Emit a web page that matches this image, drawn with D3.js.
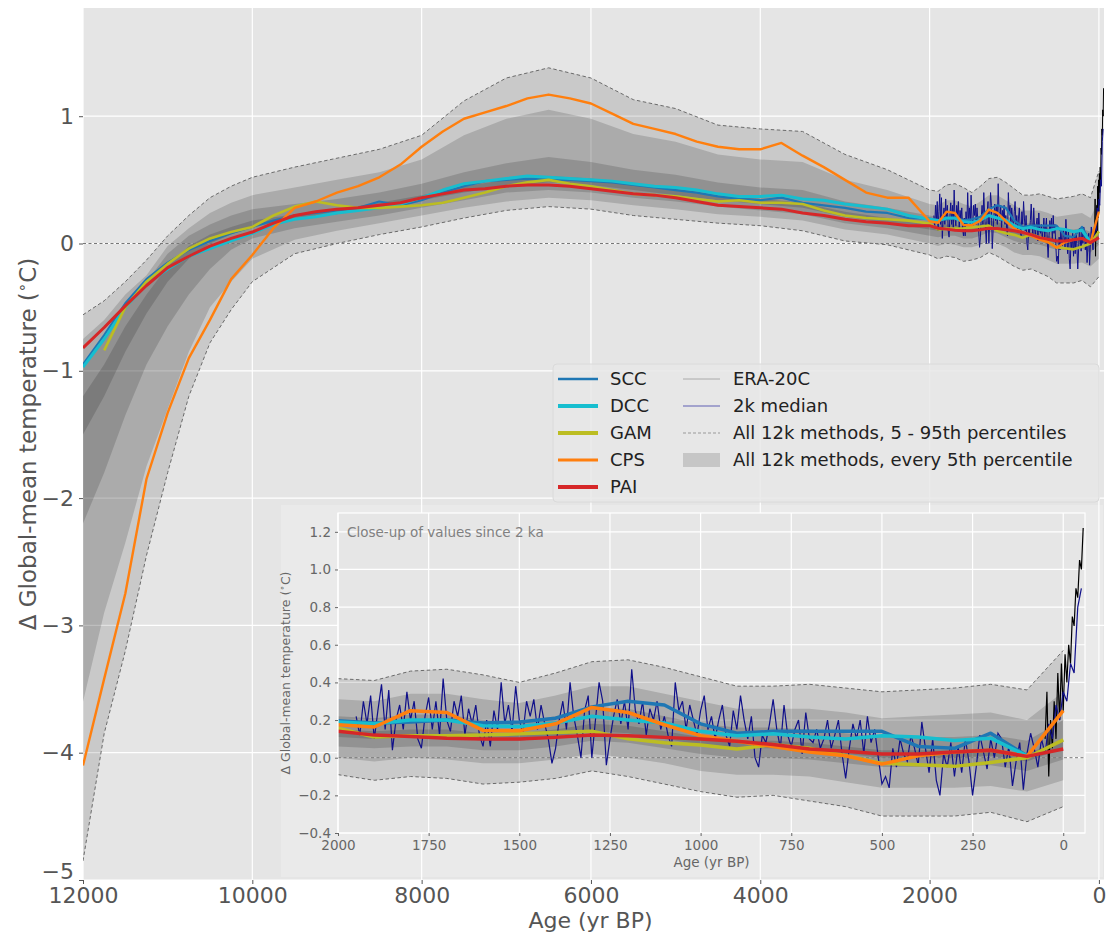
<!DOCTYPE html>
<html><head><meta charset="utf-8">
<script src="https://cdn.jsdelivr.net/npm/d3@7"></script>
<style>
body{margin:0;background:#fff;}
svg{display:block;font-family:"DejaVu Sans",sans-serif;}
</style>
</head><body>
<svg id="c" width="1106" height="936"></svg>
<script>
// ---------------- DATA ----------------
const lineAges = [12000,11750,11500,11250,11000,10750,10500,10250,10000,9750,9500,9250,9000,8750,8500,8250,8000,7750,7500,7250,7000,6750,6500,6250,6000,5750,5500,5250,5000,4750,4500,4250,4000,3750,3500,3250,3000,2750,2500,2250,
  2000,1900,1800,1700,1600,1500,1400,1300,1200,1100,1000,900,800,700,600,500,400,300,200,100,0];

const seriesNames = ["SCC","DCC","GAM","CPS","PAI"];
const seriesColors = ["#1f77b4","#17becf","#bcbd22","#ff7f0e","#d62728"];

const scc = [-0.95,-0.72,-0.47,-0.28,-0.15,-0.05,0.02,0.08,0.13,0.18,0.22,0.24,0.26,0.28,0.33,0.30,0.34,0.40,0.45,0.49,0.50,0.51,0.50,0.50,0.49,0.48,0.46,0.44,0.42,0.40,0.37,0.35,0.34,0.36,0.32,0.30,0.28,0.25,0.24,0.20,
  0.196,0.184,0.19,0.20,0.184,0.19,0.21,0.27,0.30,0.28,0.18,0.13,0.14,0.14,0.14,0.14,0.06,0.05,0.13,0.01,null];
const dcc = [-0.97,-0.75,-0.50,-0.32,-0.20,-0.10,-0.04,0.02,0.08,0.15,0.19,0.21,0.24,0.26,0.28,0.31,0.36,0.42,0.47,0.49,0.51,0.53,0.52,0.51,0.50,0.49,0.47,0.45,0.44,0.42,0.39,0.37,0.37,0.38,0.35,0.34,0.31,0.29,0.27,0.22,
  0.19,0.18,0.20,0.20,0.17,0.166,0.184,0.22,0.20,0.184,0.14,0.117,0.127,0.11,0.10,0.117,0.11,0.092,0.104,0.01,null];
const gam = [null,-0.84,-0.50,-0.30,-0.16,-0.04,0.04,0.09,0.13,0.22,0.29,0.33,0.30,0.28,0.28,0.29,0.30,0.32,0.36,0.40,0.45,0.48,0.50,0.47,0.45,0.42,0.39,0.38,0.37,0.35,0.33,0.34,0.32,0.32,0.31,0.26,0.22,0.20,0.19,0.18,
  0.157,0.11,0.117,0.117,0.12,0.127,0.134,0.141,0.10,0.08,0.068,0.046,0.07,0.05,0.01,-0.03,-0.037,-0.046,-0.025,0.0,0.095];
const cps = [-4.10,-3.42,-2.75,-1.85,-1.33,-0.90,-0.60,-0.28,-0.09,0.12,0.28,0.33,0.40,0.45,0.52,0.62,0.76,0.88,0.98,1.03,1.08,1.14,1.17,1.14,1.10,1.02,0.94,0.90,0.86,0.80,0.76,0.74,0.74,0.79,0.69,0.60,0.50,0.40,0.36,0.36,
  0.175,0.163,0.25,0.24,0.145,0.143,0.18,0.267,0.24,0.175,0.117,0.087,0.06,0.03,0.01,-0.034,0.01,0.03,0.04,0.007,0.25];
const pai = [-0.82,-0.66,-0.49,-0.33,-0.19,-0.10,-0.02,0.04,0.09,0.16,0.22,0.25,0.27,0.28,0.30,0.32,0.36,0.39,0.42,0.43,0.45,0.46,0.46,0.45,0.43,0.41,0.39,0.38,0.36,0.33,0.30,0.29,0.28,0.27,0.24,0.22,0.19,0.17,0.16,0.14,
  0.14,0.12,0.113,0.104,0.10,0.10,0.108,0.12,0.117,0.108,0.10,0.087,0.07,0.046,0.034,0.02,0.02,0.03,0.04,0.007,0.046];
const seriesValues = [scc,dcc,gam,cps,pai];

// percentiles of all 12k methods
const bandAges = [12000,11750,11500,11250,11000,10750,10500,10250,10000,9500,9000,8500,8000,7500,7000,6500,6000,5500,5000,4500,4000,3500,3000,2500,
  2000,1900,1800,1700,1600,1500,1400,1300,1200,1100,1000,900,800,700,600,500,400,300,200,100,0];
const p5  = [-4.85,-3.85,-3.20,-2.45,-1.80,-1.20,-0.78,-0.52,-0.30,-0.08,0.00,0.07,0.13,0.20,0.26,0.29,0.27,0.22,0.19,0.16,0.14,0.10,0.02,-0.01,
  -0.09,-0.12,-0.10,-0.11,-0.14,-0.13,-0.11,-0.07,-0.10,-0.14,-0.18,-0.21,-0.20,-0.23,-0.26,-0.31,-0.31,-0.31,-0.29,-0.34,-0.26];
const p15 = [-3.6,-2.9,-2.35,-1.75,-1.3,-0.85,-0.5,-0.3,-0.12,0.03,0.1,0.16,0.22,0.28,0.33,0.36,0.34,0.3,0.27,0.23,0.21,0.18,0.11,0.07,
  0.0,-0.02,0.0,-0.01,-0.03,-0.03,-0.01,0.02,0.0,-0.03,-0.07,-0.09,-0.09,-0.1,-0.13,-0.16,-0.16,-0.16,-0.15,-0.18,-0.12];
const p30 = [-2.2,-1.8,-1.35,-0.95,-0.65,-0.4,-0.2,-0.05,0.04,0.12,0.17,0.22,0.28,0.34,0.4,0.42,0.4,0.36,0.33,0.29,0.26,0.23,0.16,0.12,
  0.06,0.05,0.06,0.06,0.04,0.04,0.06,0.09,0.08,0.05,0.02,0.0,0.0,-0.01,-0.03,-0.05,-0.05,-0.05,-0.04,-0.07,-0.01];
const p45 = [-1.5,-1.2,-0.85,-0.55,-0.3,-0.12,0.0,0.07,0.13,0.19,0.23,0.28,0.34,0.4,0.45,0.48,0.46,0.42,0.38,0.34,0.31,0.28,0.21,0.16,
  0.11,0.1,0.11,0.11,0.09,0.09,0.11,0.14,0.13,0.1,0.07,0.05,0.05,0.04,0.02,0.0,0.0,0.0,0.01,-0.02,0.05];
const p55 = [-1.2,-0.95,-0.65,-0.4,-0.18,-0.02,0.07,0.13,0.18,0.23,0.27,0.32,0.38,0.45,0.5,0.53,0.51,0.47,0.43,0.38,0.35,0.32,0.25,0.2,
  0.15,0.14,0.15,0.15,0.13,0.13,0.15,0.18,0.17,0.14,0.11,0.09,0.09,0.08,0.06,0.04,0.04,0.04,0.05,0.02,0.1];
const p70 = [-0.95,-0.75,-0.5,-0.3,-0.08,0.06,0.15,0.22,0.27,0.31,0.35,0.4,0.47,0.56,0.63,0.68,0.64,0.58,0.54,0.48,0.44,0.42,0.33,0.28,
  0.22,0.21,0.23,0.23,0.2,0.19,0.22,0.26,0.26,0.22,0.18,0.16,0.16,0.15,0.13,0.11,0.11,0.11,0.12,0.09,0.2];
const p85 = [-0.75,-0.6,-0.4,-0.25,-0.02,0.12,0.24,0.32,0.38,0.44,0.5,0.56,0.66,0.85,0.98,1.05,0.98,0.86,0.8,0.7,0.66,0.64,0.5,0.42,
  0.31,0.3,0.34,0.34,0.31,0.29,0.33,0.38,0.38,0.34,0.3,0.26,0.26,0.26,0.24,0.21,0.22,0.23,0.24,0.2,0.35];
const p95 = [-0.56,-0.45,-0.30,-0.13,0.06,0.22,0.36,0.45,0.52,0.60,0.67,0.74,0.85,1.12,1.30,1.38,1.30,1.13,1.06,0.93,0.90,0.88,0.70,0.58,
  0.42,0.41,0.46,0.47,0.44,0.40,0.45,0.51,0.52,0.48,0.43,0.38,0.38,0.39,0.37,0.35,0.36,0.37,0.39,0.36,0.57];

// 2k median (decadal, 1950 .. -50 yr BP)
const medAges = d3.range(1950, -51, -10);
const median2k = [0.22,0.12,0.30,0.18,0.33,0.10,
  0.25,0.39,0.15,0.36,0.04,0.20,0.28,0.15,0.35,0.20,
  0.30,0.10,0.05,0.22,0.32,0.15,0.30,0.12,0.42,0.20,
  0.14,0.30,0.22,0.33,0.12,0.26,0.18,0.28,0.12,0.06,
  0.20,0.06,0.25,0.15,0.40,0.18,0.28,0.14,0.38,0.20,
  0.13,0.30,0.22,0.31,0.15,0.28,0.18,0.10,-0.03,0.05,
  0.20,0.30,0.15,0.40,0.22,0.12,0.00,0.25,0.33,0.00,
  0.20,0.40,0.30,-0.04,0.10,0.22,0.31,0.18,0.30,0.15,
  0.47,0.25,0.18,0.30,0.12,0.26,0.20,0.30,0.15,0.22,
  0.12,0.06,0.40,0.25,0.30,0.15,0.28,0.20,0.12,0.25,
  0.33,0.15,0.22,0.10,0.20,0.28,0.12,0.06,0.25,0.15,
  0.33,0.20,0.10,0.22,0.00,-0.05,0.12,0.08,0.18,0.31,
  0.15,0.05,0.28,0.12,0.06,0.15,0.20,0.02,0.24,0.10,
  0.08,0.15,0.05,0.10,0.20,0.05,0.12,0.20,0.02,-0.11,
  0.05,0.18,0.10,0.20,0.02,0.22,0.08,0.15,0.00,-0.14,
  -0.10,-0.16,0.05,-0.05,0.10,0.02,-0.02,0.12,0.05,-0.04,
  0.19,0.05,-0.08,0.10,-0.12,-0.20,0.02,-0.05,0.08,-0.10,
  0.06,-0.08,0.10,-0.02,-0.20,-0.05,0.12,0.03,-0.06,0.10,
  0.00,0.13,0.10,-0.05,0.06,-0.15,-0.02,0.08,-0.17,0.02,
  0.13,0.05,-0.05,0.10,0.02,0.18,0.10,0.28,0.20,0.35,
  0.30,0.50,0.45,0.80,0.90];

// ERA-20C (5-yr, 50 .. -55 yr BP)
const eraAges = d3.range(50, -56, -5);
const era20c = [0.10,0.35,-0.10,0.20,0.05,0.30,0.10,0.45,0.20,0.50,0.25,0.55,0.40,0.60,0.50,0.75,0.70,0.90,0.85,1.05,1.00,1.22];

const mainXTicks = [12000,10000,8000,6000,4000,2000,0];
const mainYTicks = [-5,-4,-3,-2,-1,0,1];
const insetXTicks = [2000,1750,1500,1250,1000,750,500,250,0];
const insetYTicks = [-0.4,-0.2,0.0,0.2,0.4,0.6,0.8,1.0,1.2];

// ---------------- DRAW ----------------
const svg = d3.select("#c");
const fmtMinus = s => String(s).replace("-", "\u2212");

function drawPanel(g, x, y, ageMax, lw, medW) {
  const bp = bandAges.map((a, i) => ({a, i})).filter(d => d.a <= ageMax);
  [[p5,p95],[p15,p85],[p30,p70],[p45,p55]].forEach(([lo, hi], j) => {
    g.append("path").datum(bp)
      .attr("d", d3.area().x(d => x(d.a)).y0(d => y(lo[d.i])).y1(d => y(hi[d.i])))
      .attr("fill", "#000").attr("fill-opacity", j === 0 ? 0.12 : 0.15);
  });
  [p5, p95].forEach(arr => {
    g.append("path").datum(bp)
      .attr("d", d3.line().x(d => x(d.a)).y(d => y(arr[d.i])))
      .attr("fill", "none").attr("stroke", "#6a6a6a").attr("stroke-width", 1)
      .attr("stroke-dasharray", "3.5,2.5");
  });
  // zero line
  g.append("line").attr("x1", x.range()[0]).attr("x2", x.range()[1])
    .attr("y1", y(0)).attr("y2", y(0))
    .attr("stroke", "#777").attr("stroke-width", 1).attr("stroke-dasharray", "3,2.5");
  // ERA-20C
  g.append("path").datum(eraAges.map((a, i) => [a, era20c[i]]))
    .attr("d", d3.line().x(d => x(d[0])).y(d => y(d[1])))
    .attr("fill", "none").attr("stroke", "#000").attr("stroke-width", medW);
  // 2k median
  g.append("path").datum(medAges.map((a, i) => [a, median2k[i]]))
    .attr("d", d3.line().x(d => x(d[0])).y(d => y(d[1])))
    .attr("fill", "none").attr("stroke", "#10108a").attr("stroke-width", medW);
  // method lines
  seriesValues.forEach((vals, k) => {
    const pts = lineAges.map((a, i) => ({a, v: vals[i]})).filter(d => d.a <= ageMax);
    g.append("path").datum(pts)
      .attr("d", d3.line().defined(d => d.v != null).x(d => x(d.a)).y(d => y(d.v)))
      .attr("fill", "none").attr("stroke", seriesColors[k]).attr("stroke-width", lw[k])
      .attr("stroke-linejoin", "round");
  });
}

// ---- main axes ----
const M = {l: 83, r: 1104, t: 8, b: 880};
const xM = d3.scaleLinear().domain([12000, -60]).range([M.l, M.r]);
const yM = d3.scaleLinear().domain([-5, 1.85]).range([M.b, M.t]);

svg.append("rect").attr("x", M.l).attr("y", M.t).attr("width", M.r - M.l).attr("height", M.b - M.t).attr("fill", "#e5e5e5");
const gridM = svg.append("g");
mainXTicks.forEach(t => gridM.append("line").attr("x1", xM(t)).attr("x2", xM(t)).attr("y1", M.t).attr("y2", M.b).attr("stroke", "#fff").attr("stroke-width", 1.2));
mainYTicks.forEach(t => gridM.append("line").attr("x1", M.l).attr("x2", M.r).attr("y1", yM(t)).attr("y2", yM(t)).attr("stroke", "#fff").attr("stroke-width", 1.2));

svg.append("clipPath").attr("id", "clipM").append("rect").attr("x", M.l).attr("y", M.t).attr("width", M.r - M.l).attr("height", M.b - M.t);
const gM = svg.append("g").attr("clip-path", "url(#clipM)");
drawPanel(gM, xM, yM, 12000, [2.2, 3, 2.6, 2.4, 3], 1);

// axes
const axL = svg.append("g").attr("transform", `translate(${M.l},0)`)
  .call(d3.axisLeft(yM).tickValues(mainYTicks).tickSize(4).tickPadding(5).tickFormat(d => fmtMinus(d)));
const axB = svg.append("g").attr("transform", `translate(0,${M.b})`)
  .call(d3.axisBottom(xM).tickValues(mainXTicks).tickSize(4).tickPadding(3).tickFormat(d => d));
[axL, axB].forEach(a => {
  a.select(".domain").remove();
  a.selectAll(".tick line").attr("stroke", "#555");
  a.selectAll("text").attr("fill", "#555").style("font-size", "22px").style("font-family", "DejaVu Sans");
});
// lift the lowest y label so it clears the first x label
axL.selectAll(".tick").filter(d => d === -5).select("text").attr("dy", "-0.05em");
svg.append("text").attr("x", (M.l + M.r) / 2 - 3).attr("y", 928).attr("text-anchor", "middle")
  .attr("fill", "#555").style("font-size", "22px").text("Age (yr BP)");
const yl = svg.append("text").attr("transform", `translate(36,${(M.t + M.b) / 2}) rotate(-90)`)
  .attr("text-anchor", "middle").attr("fill", "#555").style("font-size", "23px");
yl.append("tspan").text("\u0394 Global-mean temperature (");
yl.append("tspan").attr("baseline-shift", "super").style("font-size", "15px").text("\u2218");
yl.append("tspan").text("C)");

// ---- legend ----
const lg = svg.append("g");
lg.append("rect").attr("x", 553).attr("y", 364).attr("width", 546).attr("height", 138).attr("rx", 4)
  .attr("fill", "#e8e8e8").attr("fill-opacity", 0.85).attr("stroke", "#dadada");
const rowY = [379, 406, 433, 460, 487];
const legLW = [2.5, 4, 4, 3, 4];
seriesNames.forEach((n, k) => {
  lg.append("line").attr("x1", 558).attr("x2", 598).attr("y1", rowY[k]).attr("y2", rowY[k])
    .attr("stroke", seriesColors[k]).attr("stroke-width", legLW[k]);
  lg.append("text").attr("x", 610).attr("y", rowY[k]).attr("dy", "0.35em").style("font-size", "18px").attr("fill", "#222").text(n);
});
const leg2 = ["ERA-20C", "2k median", "All 12k methods, 5 - 95th percentiles", "All 12k methods, every 5th percentile"];
lg.append("line").attr("x1", 683).attr("x2", 720).attr("y1", rowY[0]).attr("y2", rowY[0]).attr("stroke", "#aaa").attr("stroke-width", 1);
lg.append("line").attr("x1", 683).attr("x2", 720).attr("y1", rowY[1]).attr("y2", rowY[1]).attr("stroke", "#8c8cc4").attr("stroke-width", 1.6);
lg.append("line").attr("x1", 683).attr("x2", 720).attr("y1", rowY[2]).attr("y2", rowY[2]).attr("stroke", "#999").attr("stroke-width", 1).attr("stroke-dasharray", "3,2");
lg.append("rect").attr("x", 683).attr("y", rowY[3] - 7).attr("width", 37).attr("height", 14).attr("fill", "#c6c6c6");
leg2.forEach((n, k) => {
  lg.append("text").attr("x", 733).attr("y", rowY[k]).attr("dy", "0.35em").style("font-size", "18px").attr("fill", "#222").text(n);
});

// ---- inset ----
svg.append("rect").attr("x", 281).attr("y", 505).attr("width", 822).attr("height", 372)
  .attr("fill", "#fff").attr("fill-opacity", 0.2);
const I = {l: 338, r: 1085, t: 513, b: 833};
const xI = d3.scaleLinear().domain([2000, -60]).range([I.l, I.r]);
const yI = d3.scaleLinear().domain([-0.4, 1.3]).range([I.b, I.t]);
svg.append("rect").attr("x", I.l).attr("y", I.t).attr("width", I.r - I.l).attr("height", I.b - I.t).attr("fill", "#e6e6e6");
const gridI = svg.append("g");
insetXTicks.forEach(t => gridI.append("line").attr("x1", xI(t)).attr("x2", xI(t)).attr("y1", I.t).attr("y2", I.b).attr("stroke", "#fff").attr("stroke-width", 1.2));
insetYTicks.forEach(t => gridI.append("line").attr("x1", I.l).attr("x2", I.r).attr("y1", yI(t)).attr("y2", yI(t)).attr("stroke", "#fff").attr("stroke-width", 1.2));
svg.append("clipPath").attr("id", "clipI").append("rect").attr("x", I.l).attr("y", I.t).attr("width", I.r - I.l).attr("height", I.b - I.t);
const gI = svg.append("g").attr("clip-path", "url(#clipI)");
drawPanel(gI, xI, yI, 2000, [3.5, 3.5, 3.5, 3.5, 3.5], 1.2);
svg.append("rect").attr("x", I.l).attr("y", I.t).attr("width", I.r - I.l).attr("height", I.b - I.t)
  .attr("fill", "none").attr("stroke", "#fff").attr("stroke-width", 1.2);

const axIL = svg.append("g").attr("transform", `translate(${I.l},0)`)
  .call(d3.axisLeft(yI).tickValues(insetYTicks).tickSize(3).tickPadding(4).tickFormat(d => fmtMinus(d3.format(".1f")(d))));
const axIB = svg.append("g").attr("transform", `translate(0,${I.b})`)
  .call(d3.axisBottom(xI).tickValues(insetXTicks).tickSize(3).tickPadding(4).tickFormat(d => d));
[axIL, axIB].forEach(a => {
  a.select(".domain").remove();
  a.selectAll(".tick line").attr("stroke", "#666");
  a.selectAll("text").attr("fill", "#666").style("font-size", "13.5px").style("font-family", "DejaVu Sans");
});
svg.append("text").attr("x", (I.l + I.r) / 2).attr("y", 867).attr("text-anchor", "middle")
  .attr("fill", "#666").style("font-size", "13.5px").text("Age (yr BP)");
const yl2 = svg.append("text").attr("transform", `translate(290,${(I.t + I.b) / 2}) rotate(-90)`)
  .attr("text-anchor", "middle").attr("fill", "#666").style("font-size", "12.5px");
yl2.append("tspan").text("\u0394 Global-mean temperature (");
yl2.append("tspan").attr("baseline-shift", "super").style("font-size", "9px").text("\u2218");
yl2.append("tspan").text("C)");
svg.append("text").attr("x", 347).attr("y", 537).attr("fill", "#808080").style("font-size", "13.5px")
  .text("Close-up of values since 2 ka");
</script>
</body></html>
